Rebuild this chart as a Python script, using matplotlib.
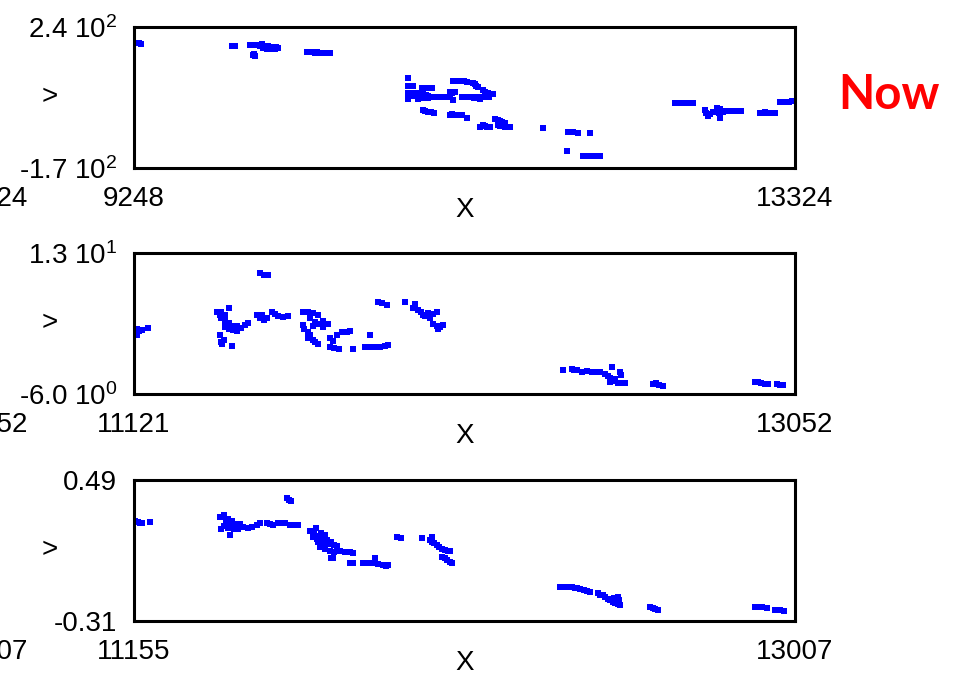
import matplotlib
matplotlib.use("Agg")
import matplotlib.pyplot as plt
import matplotlib.transforms as mtransforms

plt.rcParams['font.family'] = ['Liberation Sans', 'DejaVu Sans']
plt.rcParams['mathtext.fontset'] = 'custom'
plt.rcParams['mathtext.rm'] = 'Liberation Sans'
plt.rcParams['mathtext.it'] = 'Liberation Sans:italic'

# top panel: x range, y range, tick labels and points
x_lim_top = (9248, 13324)
y_lim_top = (-170, 240)
y_labels_top = ["-1.7 10$^2$", "2.4 10$^2$"]
x_labels_top = ["9248", "13324"]
pts_top = [
    (9254, 193), (9266, 193), (9279, 193), (9291, 192),
    (9852, 185), (9870, 185), (9963, 188), (9975, 189), (9982, 159), (9988, 162), (9994, 157),
    (10013, 188), (10025, 185), (10037, 190), (10050, 186), (10062, 183), (10075, 185),
    (10087, 181), (10099, 183), (10111, 179), (10124, 182), (10136, 180), (10044, 179),
    (10068, 176), (10093, 176), (10118, 177),
    (10315, 167), (10327, 166), (10340, 167), (10352, 166), (10364, 165), (10377, 166),
    (10389, 164), (10401, 165), (10413, 164), (10425, 164), (10438, 165), (10457, 164),
    (10937, 92), (10937, 68), (10950, 68), (10968, 67),
    (11024, 63), (11040, 63), (11055, 62), (11070, 63), (11085, 62),
    (10937, 48), (10937, 39), (10940, 31), (10950, 44), (10968, 48), (10968, 39), (10984, 43),
    (10999, 48), (10999, 39), (10999, 31), (11015, 44), (11030, 48), (11030, 39), (11030, 33),
    (11046, 42), (11061, 39), (11061, 33), (11076, 36), (11092, 36),
    (11116, 36), (11131, 37), (11147, 36), (11162, 37), (11178, 36),
    (11196, 51), (11212, 49), (11227, 51), (11196, 42), (11215, 28),
    (11215, 83), (11237, 84), (11258, 82), (11280, 83), (11301, 81),
    (11338, 77), (11350, 73), (11369, 66), (11355, 68),
    (11270, 36), (11288, 37), (11307, 35), (11325, 36), (11344, 34), (11362, 35), (11381, 31),
    (11400, 57), (11415, 52), (11431, 48), (11447, 44), (11462, 45), (11420, 40), (11440, 36), (11400, 36),
    (11030, -1), (11045, -4), (11061, -7), (11080, -8), (11098, -10),
    (11196, -16), (11212, -14), (11233, -16), (11250, -17), (11270, -16), (11301, -25),
    (11381, -50), (11397, -45), (11412, -48), (11427, -52), (11443, -50),
    (11474, -28), (11490, -30), (11505, -33), (11520, -36), (11536, -40), (11490, -45), (11505, -48),
    (11520, -45), (11536, -51), (11551, -50), (11566, -52), (11505, -39),
    (11770, -54),
    (11924, -65), (11940, -66), (11955, -65), (11986, -67), (12060, -68),
    (11918, -121),
    (12017, -135), (12035, -136), (12054, -135), (12072, -136), (12091, -135), (12106, -134), (12121, -135),
    (12584, 19), (12600, 19), (12621, 18), (12640, 18), (12658, 19), (12676, 18), (12695, 18),
    (12769, -1), (12775, -10), (12785, -18), (12800, -13), (12818, -6),
    (12843, 4), (12860, 1), (12880, -3), (12898, -3), (12917, -4), (12935, -3), (12954, -4),
    (12972, -3), (12991, -4), (12861, -25), (12855, -10), (12880, -8),
    (13108, -10), (13125, -11), (13139, -8), (13155, -10), (13170, -11), (13185, -10), (13200, -11),
    (13231, 22), (13250, 23), (13268, 22), (13287, 23), (13305, 24), (13318, 26),
]

# middle panel
x_lim_mid = (11121, 13052)
y_lim_mid = (-6.0, 13.0)
y_labels_mid = ["-6.0 10$^0$", "1.3 10$^1$"]
x_labels_mid = ["11121", "13052"]
pts_mid = [
    (11124, 2.35), (11130, 2.7), (11137, 2.5), (11144, 2.6), (11130, 2.0), (11162, 2.9),
    (11489, 10.3), (11501, 10.1), (11512, 10.0),
    (11363, 5.0), (11375, 5.1), (11387, 4.6), (11398, 5.6), (11375, 4.2), (11387, 3.8),
    (11398, 3.6), (11410, 3.2), (11387, 3.0), (11398, 2.7), (11372, 4.6),
    (11372, 2.0), (11375, 1.0), (11385, 1.3), (11378, 0.7), (11407, 0.5),
    (11410, 2.6), (11422, 2.5), (11434, 2.9), (11445, 3.3), (11454, 3.6), (11422, 3.2),
    (11480, 4.6), (11488, 4.2), (11495, 4.6), (11502, 4.0), (11510, 4.2), (11524, 5.0), (11533, 4.8),
    (11542, 4.5), (11556, 4.4), (11571, 4.5),
    (11615, 5.1), (11629, 5.1), (11644, 4.9), (11658, 4.6), (11636, 4.2), (11650, 3.7),
    (11658, 3.4), (11673, 3.8), (11688, 3.4), (11644, 3.2), (11673, 3.0), (11615, 3.3), (11617, 2.7),
    (11629, 2.3), (11636, 1.9), (11644, 1.3), (11651, 1.0), (11658, 0.7), (11629, 1.6),
    (11694, 1.5), (11702, 1.2),
    (11714, 2.0), (11729, 2.3), (11743, 2.4), (11752, 2.5),
    (11694, 0.33), (11705, 0.2), (11720, 0.06), (11761, 0.06),
    (11796, 0.33), (11810, 0.4), (11825, 0.3), (11840, 0.33), (11854, 0.5), (11863, 0.6),
    (11810, 1.95),
    (11834, 6.4), (11845, 6.3), (11860, 6.0),
    (11913, 6.4), (11942, 6.1),
    (11936, 5.6), (11951, 5.3), (11958, 5.0), (11965, 4.7), (11980, 4.9), (11994, 4.8),
    (11972, 4.5), (11987, 4.3), (12006, 5.0),
    (11994, 3.4), (12006, 3.2), (12015, 3.0), (12024, 3.3), (12010, 2.7),
    (12374, -2.8), (12400, -2.6), (12407, -2.7), (12415, -2.8), (12430, -3.0), (12444, -2.9),
    (12459, -3.1), (12468, -3.0),
    (12482, -3.1), (12497, -3.3), (12505, -3.6), (12511, -3.9), (12520, -4.2), (12526, -4.0),
    (12535, -4.5), (12541, -4.5), (12555, -4.5), (12517, -2.4), (12541, -3.0), (12545, -3.4), (12511, -4.4),
    (12637, -4.6), (12646, -4.5), (12654, -4.8), (12665, -4.9),
    (12935, -4.4), (12945, -4.4), (12953, -4.5), (12965, -4.6), (12973, -4.6),
    (12999, -4.6), (13008, -4.8), (13017, -4.8),
]

# bottom panel
x_lim_bot = (11155, 13007)
y_lim_bot = (-0.31, 0.49)
y_labels_bot = ["-0.31", "0.49"]
x_labels_bot = ["11155", "13007"]
pts_bot = [
    (11158, 0.257), (11166, 0.252), (11172, 0.248), (11177, 0.244), (11200, 0.252),
    (11584, 0.388), (11590, 0.377), (11595, 0.372),
    (11396, 0.28), (11407, 0.29), (11418, 0.27), (11430, 0.26), (11412, 0.255), (11424, 0.245),
    (11441, 0.24), (11452, 0.24), (11407, 0.23), (11418, 0.22), (11435, 0.213), (11446, 0.21),
    (11398, 0.21), (11424, 0.178),
    (11460, 0.225), (11474, 0.218), (11486, 0.225), (11500, 0.235), (11508, 0.246), (11528, 0.246),
    (11535, 0.24), (11545, 0.235), (11558, 0.247), (11570, 0.246), (11578, 0.246), (11592, 0.235),
    (11603, 0.235), (11615, 0.232),
    (11648, 0.2), (11660, 0.185), (11671, 0.175), (11664, 0.215), (11678, 0.19), (11690, 0.18),
    (11656, 0.165), (11668, 0.155), (11682, 0.16), (11695, 0.15), (11706, 0.14), (11670, 0.14),
    (11684, 0.13), (11700, 0.125), (11715, 0.12), (11724, 0.115), (11676, 0.11), (11690, 0.1),
    (11704, 0.085), (11716, 0.08), (11732, 0.085), (11746, 0.083), (11760, 0.08), (11769, 0.078),
    (11706, 0.048), (11712, 0.045),
    (11760, 0.02), (11769, 0.018), (11797, 0.02), (11811, 0.018), (11825, 0.02), (11839, 0.012),
    (11853, 0.008), (11860, 0.002), (11867, 0.006), (11830, 0.05),
    (11892, 0.167), (11903, 0.16), (11962, 0.16),
    (11984, 0.15), (11990, 0.14), (11996, 0.13), (12004, 0.12), (12010, 0.11), (12018, 0.1),
    (12026, 0.093), (12035, 0.09), (12040, 0.085), (11990, 0.165),
    (12018, 0.055), (12025, 0.045), (12032, 0.035), (12040, 0.025), (12045, 0.02),
    (12349, -0.117), (12366, -0.117), (12382, -0.115), (12390, -0.12), (12396, -0.125),
    (12405, -0.13), (12415, -0.135), (12424, -0.14), (12433, -0.145), (12455, -0.15), (12462, -0.16),
    (12469, -0.165), (12476, -0.175), (12483, -0.185), (12490, -0.19), (12497, -0.2), (12504, -0.21),
    (12511, -0.215), (12517, -0.22), (12500, -0.18), (12511, -0.172), (12515, -0.19),
    (12601, -0.23), (12610, -0.235), (12615, -0.24), (12623, -0.248),
    (12895, -0.23), (12905, -0.232), (12915, -0.233), (12929, -0.235), (12951, -0.25),
    (12965, -0.25), (12975, -0.253),
]

# tails of the labels from the column further left (cut off by the edge)
left_labels = ["13324", "13052", "13007"]

panels = [
    (pts_top, x_lim_top, y_lim_top, x_labels_top, y_labels_top),
    (pts_mid, x_lim_mid, y_lim_mid, x_labels_mid, y_labels_mid),
    (pts_bot, x_lim_bot, y_lim_bot, x_labels_bot, y_labels_bot),
]

fig = plt.figure(figsize=(9.55, 6.74), dpi=100)
W, H = 955, 674
tops = [27, 253, 480]
box_h = 141

for i, (pts, xl, yl, xlab, ylab) in enumerate(panels):
    top = tops[i]
    ax = fig.add_axes([134 / W, 1 - (top + box_h) / H, 661 / W, box_h / H])
    xs = [p[0] for p in pts]
    ys = [p[1] for p in pts]
    ax.plot(xs, ys, 's', color='#0000ff', markersize=4.2, markeredgewidth=0)
    ax.set_xlim(*xl)
    ax.set_ylim(*yl)
    ax.set_xticks(list(xl))
    ax.set_xticklabels(xlab)
    ax.set_yticks(list(yl))
    ax.set_yticklabels(ylab)
    ax.tick_params(axis='both', length=0, labelsize=20)
    ax.tick_params(axis='x', pad=13)
    ax.tick_params(axis='y', pad=12)
    for s in ax.spines.values():
        s.set_linewidth(2.2)
        s.set_color('black')
    ax.set_xlabel('X', fontsize=20)
    ax.xaxis.set_label_coords(0.5, -0.205)
    ax.set_ylabel('>', fontsize=20, rotation=0, va='center', ha='center')
    ax.yaxis.set_label_coords(-0.127, 0.5)
    trans = mtransforms.blended_transform_factory(fig.transFigure, ax.transAxes)
    ax.text(28 / W, -0.125, left_labels[i], transform=trans, ha='right', va='top',
            fontsize=20, clip_on=False)

fig.text(838 / W, 1 - 95 / H, 'Now', color='#ff0000', fontsize=34, fontweight='bold',
         family=['Lato', 'DejaVu Sans'], ha='left', va='center')

fig.savefig('out.png', dpi=100)
